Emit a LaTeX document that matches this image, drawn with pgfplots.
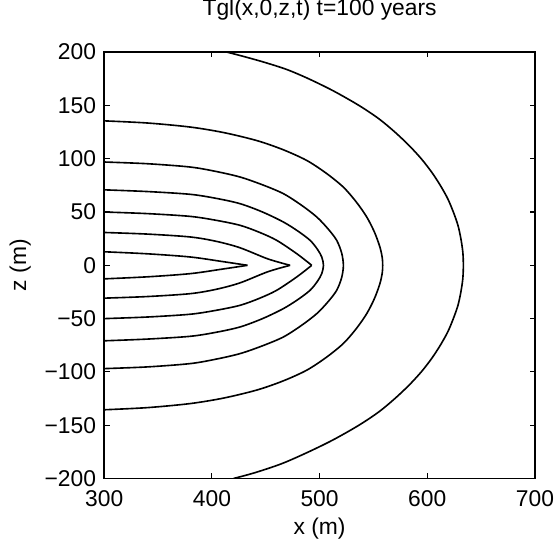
\documentclass[border=0pt]{standalone}
\usepackage{fontspec}
\setmainfont{Liberation Sans}
\usepackage{pgfplots}
\pgfplotsset{compat=1.18}
\begin{document}
\begin{tikzpicture}
\begin{axis}[
  scale only axis, width=200pt, height=198pt,
  xmin=300, xmax=700, ymin=-200, ymax=200,
  xtick={300,400,500,600,700},
  ytick={-200,-150,-100,-50,0,50,100,150,200},
  yticklabels={−200,−150,−100,−50,0,50,100,150,200},
  /pgf/number format/assume math mode=true,
  tick align=inside, major tick length=2.5pt,
  tick style={black, line width=0.5pt},
  axis line style={line width=0.7pt},
  font=\fontsize{10.6}{12.5}\selectfont,
  title={Tgl(x,0,z,t) t=100 years},
  title style={at={(axis description cs:0.5,1.056)}, anchor=base, inner sep=0pt, yshift=0pt},
  xlabel={x (m)},
  xlabel style={at={(axis description cs:0.5,-0.118)}, anchor=center, inner sep=0pt},
  ylabel={z (m)},
  ylabel style={at={(axis description cs:-0.195,0.5)}, anchor=center, inner sep=0pt},
  xticklabel style={yshift=-2.0pt},
  yticklabel style={xshift=-0.3pt},
]
\coordinate (sw) at (rel axis cs:0,0);
\coordinate (ne) at (rel axis cs:1,1);
% outer contour
\addplot[black, line width=0.75pt, smooth] coordinates {
 (414,200) (431,195.5) (450.2,190) (470,183.5) (489.8,175) (513,163.5) (536.5,150) (555,137.5) (569.9,125) (583,112.5) (594.4,100) (604,87.5) (612.1,75) (619,62.5) (624.2,50) (628.5,37.5) (631.2,25) (633,12.5) (633.5,0)
 (633,-12.5) (631.2,-25) (628.5,-37.5) (624.2,-50) (619,-62.5) (612.1,-75) (604,-87.5) (594.4,-100) (583,-112.5) (569.9,-125) (555,-137.5) (536.5,-150) (513,-163.5) (489.8,-175) (465,-186) (440,-194.5) (420,-200)};
% +-135
\addplot[black, line width=0.75pt, smooth] coordinates {
 (300,135.5) (340,133.5) (379.8,129.7) (411,124.5) (441.7,117) (466,108.5) (488,98.4) (506,86.5) (522,73.4) (534,59.5) (543.8,45.3) (551,31) (556,17.2) (558.2,7) (558.6,0)
 (558.2,-7) (556,-17.2) (551,-31) (543.8,-45.3) (534,-59.5) (522,-73.4) (506,-86.5) (488,-98.4) (466,-108.5) (441.7,-117) (411,-124.5) (379.8,-129.7) (340,-133.5) (300,-135.5)};
% +-97
\addplot[black, line width=0.75pt, smooth] coordinates {
 (300,96.9) (340,95.3) (379.8,92.2) (404,88) (426.2,82.8) (447,75.5) (466.4,67.2) (483,56.5) (497.4,45.3) (508,34) (515.9,23.4) (520.5,11.5) (522.1,0)
 (520.5,-11.5) (515.9,-23.4) (508,-34) (497.4,-45.3) (483,-56.5) (466.4,-67.2) (447,-75.5) (426.2,-82.8) (404,-88) (379.8,-92.2) (340,-95.3) (300,-96.9)};
% +-71
\addplot[black, line width=0.75pt, smooth] coordinates {
 (300,70.8) (340,69.2) (379.8,66.6) (404,62.8) (426.2,57.8) (447,50) (466.4,40.6) (480,32) (491.2,23.4) (498,15) (502,7.8) (503.6,0)
 (502,-7.8) (498,-15) (491.2,-23.4) (480,-32) (466.4,-40.6) (447,-50) (426.2,-57.8) (404,-62.8) (379.8,-66.6) (340,-69.2) (300,-70.8)};
% +-50 (pointed tip)
\addplot[black, line width=0.75pt, smooth] coordinates {
 (300,50) (340,48.5) (379.8,45.9) (404,42.2) (426.2,37.5) (444,31) (460.2,23.4) (478.8,10.9) (492.7,0)};
\addplot[black, line width=0.75pt, smooth] coordinates {
 (300,-50) (340,-48.5) (379.8,-45.9) (404,-42.2) (426.2,-37.5) (444,-31) (460.2,-23.4) (478.8,-10.9) (492.7,0)};
% +-31 (pointed tip)
\addplot[black, line width=0.75pt, smooth] coordinates {
 (300,30.8) (340,29.3) (379.8,26.6) (404,22.5) (426,16.5) (452,6) (472.6,0)};
\addplot[black, line width=0.75pt, smooth] coordinates {
 (300,-30.8) (340,-29.3) (379.8,-26.6) (404,-22.5) (426,-16.5) (452,-6) (472.6,0)};
% +-13 (pointed tip)
\addplot[black, line width=0.75pt, smooth] coordinates {
 (300,12.7) (340,10.8) (380,7.8) (410,3.5) (433,0)};
\addplot[black, line width=0.75pt, smooth] coordinates {
 (300,-12.7) (340,-10.8) (380,-7.8) (410,-3.5) (433,0)};
\end{axis}
\pgfresetboundingbox
\path ([xshift=-48.4pt,yshift=-30.7pt]sw) rectangle ([xshift=10.7pt,yshift=24.2pt]ne);
\end{tikzpicture}
\end{document}
